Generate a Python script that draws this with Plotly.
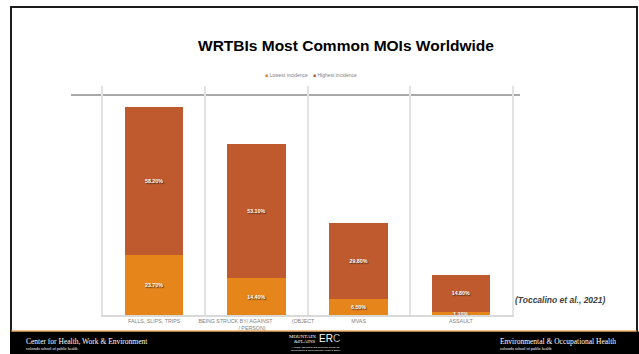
import plotly.graph_objects as go

categories = ["FALLS, SLIPS, TRIPS", "BEING STRUCK BY/ AGAINST", "MVAS", "ASSAULT"]
tick_labels = ["FALLS, SLIPS, TRIPS",
               "BEING STRUCK BY/ AGAINST\u00a0\u00a0\u00a0\u00a0\u00a0\u00a0\u00a0\u00a0\u00a0\u00a0\u00a0\u00a0\u00a0(OBJECT<br>/ PERSON)\u00a0\u00a0\u00a0\u00a0\u00a0\u00a0",
               "MVAS", "ASSAULT"]
lowest = [23.7, 14.4, 6.5, 1.1]
highest = [58.2, 53.1, 29.8, 14.8]
series_names = ["Lowest incidence", "Highest incidence"]

W, H = 639, 354
def px(x): return x / W
def py(y): return (H - y) / H

ORANGE = "#E5851A"
RUST = "#BE5A2E"
colors = [ORANGE, RUST]

fig = go.Figure()
for name, vals, col in zip(series_names, [lowest, highest], colors):
    fig.add_trace(go.Bar(
        x=categories, y=vals, name=name, marker=dict(color=col, line=dict(width=0)),
        width=0.57, texttemplate="<b>%{y:.2f}%</b>", textposition="inside",
        insidetextanchor="middle", constraintext="none",
        textfont=dict(size=5.3, color="white", family="Liberation Sans", shadow="1px 1px 1px #4a2a1a"),
        hoverinfo="skip", showlegend=False))

fig.update_layout(
    width=W, height=H, autosize=False,
    margin=dict(l=0, r=0, t=0, b=0, autoexpand=False),
    paper_bgcolor="white", plot_bgcolor="white",
    barmode="stack", bargap=0.43,
    showlegend=False,
    xaxis=dict(domain=[px(103), px(512)], type="category",
               tickmode="array", tickvals=categories, ticktext=tick_labels,
               tickangle=0, automargin=False,
               tickson="boundaries", showgrid=True, gridcolor="#e3e3e3", gridwidth=1.5,
               showline=True, linecolor="#d9d9d9", linewidth=1.5, ticks="",
               tickfont=dict(size=5.3, color="#7f7f7f", family="Liberation Sans"),
               range=[-0.5, 3.5], fixedrange=True),
    yaxis=dict(domain=[py(315), py(86)], range=[0, 90.2], showgrid=False,
               showticklabels=False, ticks="", zeroline=False,
               showline=True, mirror=True, linecolor="#e3e3e3", linewidth=1.5,
               automargin=False),
)

shapes = []
FR = "#1c1c1c"
shapes.append(dict(type="line", xref="paper", yref="paper", x0=px(11), x1=px(11), y0=py(7), y1=py(332), line=dict(color=FR, width=2)))
shapes.append(dict(type="line", xref="paper", yref="paper", x0=px(10), x1=px(638), y0=py(7), y1=py(7), line=dict(color=FR, width=2)))
shapes.append(dict(type="line", xref="paper", yref="paper", x0=px(637), x1=px(637), y0=py(6), y1=py(332), line=dict(color=FR, width=2)))
shapes.append(dict(type="rect", xref="paper", yref="paper", x0=px(10), x1=1, y0=0, y1=py(331.5), fillcolor="black", line=dict(width=0), layer="above"))
shapes.append(dict(type="line", xref="paper", yref="paper", x0=px(11), x1=px(637), y0=py(331), y1=py(331), line=dict(color="#E5851A", width=1.2), layer="above"))
shapes.append(dict(type="line", xref="paper", yref="paper", x0=px(71), x1=px(520), y0=py(95), y1=py(95), line=dict(color="#8c8c8c", width=1.3), layer="below"))
fig.update_layout(shapes=shapes)

ann = []
legend_x = [263, 311]
for name, col, lx in zip(series_names, colors, legend_x):
    ann.append(dict(text=f"<span style='color:{col}'>■</span> {name}", xref="paper", yref="paper",
                    x=px(lx), y=py(75), xanchor="left", yanchor="middle", showarrow=False,
                    font=dict(size=5, color="#7f7f7f", family="Liberation Sans")))
ann.append(dict(text="<b>WRTBIs Most Common MOIs Worldwide</b>", xref="paper", yref="paper",
                x=px(346), y=py(45), xanchor="center", yanchor="middle", showarrow=False,
                font=dict(size=15.5, color="black", family="Liberation Sans")))
ann.append(dict(text="<b><i>(Toccalino et al., 2021)</i></b>", xref="paper", yref="paper",
                x=px(560), y=py(300), xanchor="center", yanchor="middle", showarrow=False,
                font=dict(size=8.5, color="#404040", family="Liberation Sans")))
ann.append(dict(text="Center for Health, Work & Environment", xref="paper", yref="paper",
                x=px(24), y=py(341), xanchor="left", yanchor="middle", showarrow=False,
                font=dict(size=7.5, color="white", family="Liberation Serif")))
ann.append(dict(text="colorado school of public health", xref="paper", yref="paper",
                x=px(24), y=py(348), xanchor="left", yanchor="middle", showarrow=False,
                font=dict(size=4, color="white", family="Liberation Serif")))
ann.append(dict(text="Environmental & Occupational Health", xref="paper", yref="paper",
                x=px(498), y=py(341), xanchor="left", yanchor="middle", showarrow=False,
                font=dict(size=7.5, color="white", family="Liberation Serif")))
ann.append(dict(text="colorado school of public health", xref="paper", yref="paper",
                x=px(498), y=py(348), xanchor="left", yanchor="middle", showarrow=False,
                font=dict(size=4, color="white", family="Liberation Serif")))
ann.append(dict(text="MOUNTAIN", xref="paper", yref="paper",
                x=px(318), y=py(336), xanchor="right", yanchor="middle", showarrow=False,
                font=dict(size=5, color="white", family="Liberation Serif")))
ann.append(dict(text="&PLAINS", xref="paper", yref="paper",
                x=px(318), y=py(341), xanchor="right", yanchor="middle", showarrow=False,
                font=dict(size=5, color="white", family="Liberation Serif")))
ann.append(dict(text="ER", xref="paper", yref="paper",
                x=px(317), y=py(338), xanchor="left", yanchor="middle", showarrow=False,
                font=dict(size=10, color="white", family="Liberation Sans")))
ann.append(dict(text="C", xref="paper", yref="paper",
                x=px(331), y=py(338), xanchor="left", yanchor="middle", showarrow=False,
                font=dict(size=10, color="#bbbbbb", family="Liberation Sans")))
ann.append(dict(text="A NIOSH Education and Research Center for<br>Occupational & Environmental Health & Safety",
                xref="paper", yref="paper", x=px(316), y=py(349), xanchor="center", yanchor="middle",
                showarrow=False, font=dict(size=2.4, color="white", family="Liberation Sans")))
fig.update_layout(annotations=ann)

fig.write_html("out.html")
